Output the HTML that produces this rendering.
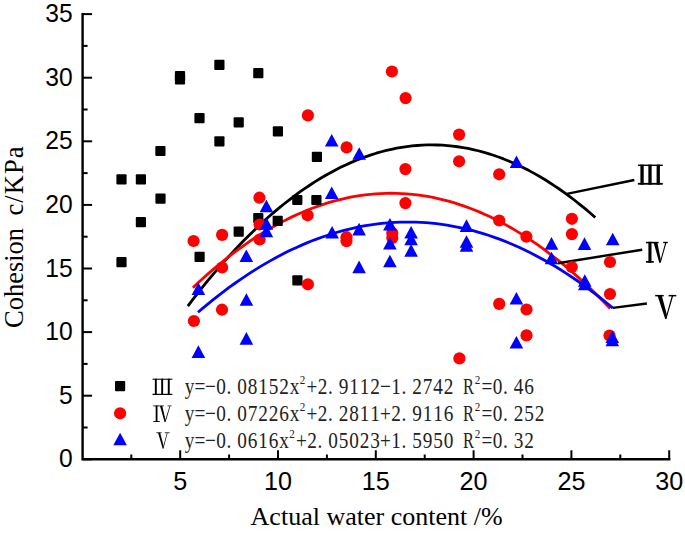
<!DOCTYPE html><html><head><meta charset="utf-8"><style>html,body{margin:0;padding:0;background:#fff;}svg{display:block;}</style></head><body>
<svg width="685" height="533" viewBox="0 0 685 533">
<rect width="685" height="533" fill="#fff"/>
<g stroke="#000" stroke-width="2.4" fill="none" stroke-linecap="square">
<path d="M82.60 14.10V459.30H669.20"/>
</g>
<g stroke="#000" stroke-width="2" fill="none">
<path d="M82.60 459.30H92.10"/>
<path d="M82.60 395.70H92.10"/>
<path d="M82.60 332.10H92.10"/>
<path d="M82.60 268.50H92.10"/>
<path d="M82.60 204.90H92.10"/>
<path d="M82.60 141.30H92.10"/>
<path d="M82.60 77.70H92.10"/>
<path d="M82.60 14.10H92.10"/>
<path d="M82.60 427.50H87.60"/>
<path d="M82.60 363.90H87.60"/>
<path d="M82.60 300.30H87.60"/>
<path d="M82.60 236.70H87.60"/>
<path d="M82.60 173.10H87.60"/>
<path d="M82.60 109.50H87.60"/>
<path d="M82.60 45.90H87.60"/>
<path d="M180.20 459.30V450.30"/>
<path d="M278.00 459.30V450.30"/>
<path d="M375.80 459.30V450.30"/>
<path d="M473.60 459.30V450.30"/>
<path d="M571.40 459.30V450.30"/>
<path d="M669.20 459.30V450.30"/>
<path d="M131.30 459.30V454.50"/>
<path d="M229.10 459.30V454.50"/>
<path d="M326.90 459.30V454.50"/>
<path d="M424.70 459.30V454.50"/>
<path d="M522.50 459.30V454.50"/>
<path d="M620.30 459.30V454.50"/>
</g>
<g font-family="Liberation Sans, sans-serif" font-size="26.5" fill="#000">
<text transform="translate(72.6 467.30) scale(0.93 1)" text-anchor="end">0</text>
<text transform="translate(72.6 403.70) scale(0.93 1)" text-anchor="end">5</text>
<text transform="translate(72.6 340.10) scale(0.93 1)" text-anchor="end">10</text>
<text transform="translate(72.6 276.50) scale(0.93 1)" text-anchor="end">15</text>
<text transform="translate(72.6 212.90) scale(0.93 1)" text-anchor="end">20</text>
<text transform="translate(72.6 149.30) scale(0.93 1)" text-anchor="end">25</text>
<text transform="translate(72.6 85.70) scale(0.93 1)" text-anchor="end">30</text>
<text transform="translate(72.6 22.10) scale(0.93 1)" text-anchor="end">35</text>
<text transform="translate(180.20 489.8) scale(0.95 1)" text-anchor="middle">5</text>
<text transform="translate(278.00 489.8) scale(0.95 1)" text-anchor="middle">10</text>
<text transform="translate(375.80 489.8) scale(0.95 1)" text-anchor="middle">15</text>
<text transform="translate(473.60 489.8) scale(0.95 1)" text-anchor="middle">20</text>
<text transform="translate(571.40 489.8) scale(0.95 1)" text-anchor="middle">25</text>
<text transform="translate(669.20 489.8) scale(0.95 1)" text-anchor="middle">30</text>
</g>
<text font-family="Liberation Serif, serif" font-size="26.5" fill="#000" transform="translate(22.6 328.0) rotate(-90)">Cohesion</text>
<text font-family="Liberation Serif, serif" font-size="26.5" fill="#000" letter-spacing="1.1" transform="translate(22.6 215.6) rotate(-90)">c/KPa</text>
<text font-family="Liberation Serif, serif" font-size="26" fill="#000" x="250.6" y="525.1">Actual water content /%</text>
<g fill="none" stroke-width="2.8" stroke-linejoin="round">
<polyline stroke="#000" points="187.83,306.04 192.92,299.38 198.01,292.86 203.11,286.48 208.20,280.24 213.29,274.14 218.39,268.18 223.48,262.36 228.57,256.69 233.66,251.15 238.76,245.76 243.85,240.50 248.94,235.39 254.04,230.41 259.13,225.58 264.22,220.89 269.32,216.33 274.41,211.92 279.50,207.65 284.59,203.52 289.69,199.53 294.78,195.68 299.87,191.98 304.97,188.41 310.06,184.98 315.15,181.69 320.24,178.55 325.34,175.54 330.43,172.68 335.52,169.95 340.62,167.37 345.71,164.93 350.80,162.62 355.90,160.46 360.99,158.44 366.08,156.56 371.17,154.82 376.27,153.22 381.36,151.76 386.45,150.44 391.55,149.27 396.64,148.23 401.73,147.33 406.82,146.58 411.92,145.96 417.01,145.49 422.10,145.15 427.20,144.96 432.29,144.91 437.38,144.99 442.48,145.22 447.57,145.59 452.66,146.10 457.75,146.75 462.85,147.54 467.94,148.47 473.03,149.54 478.13,150.76 483.22,152.11 488.31,153.60 493.40,155.24 498.50,157.01 503.59,158.93 508.68,160.98 513.78,163.18 518.87,165.52 523.96,168.00 529.06,170.61 534.15,173.37 539.24,176.27 544.33,179.31 549.43,182.49 554.52,185.82 559.61,189.28 564.71,192.88 569.80,196.62 574.89,200.51 579.98,204.53 585.08,208.70 590.17,213.00 595.26,217.45"/>
<polyline stroke="#f00" points="192.91,287.67 198.13,282.77 203.34,278.00 208.56,273.35 213.77,268.85 218.99,264.47 224.21,260.22 229.42,256.10 234.64,252.11 239.85,248.26 245.07,244.53 250.28,240.94 255.50,237.47 260.71,234.14 265.93,230.94 271.14,227.86 276.36,224.92 281.57,222.11 286.79,219.43 292.00,216.88 297.22,214.46 302.43,212.18 307.65,210.02 312.86,207.99 318.08,206.10 323.29,204.33 328.51,202.70 333.72,201.19 338.94,199.82 344.15,198.58 349.37,197.46 354.58,196.48 359.80,195.63 365.02,194.91 370.23,194.32 375.45,193.87 380.66,193.54 385.88,193.34 391.09,193.27 396.31,193.34 401.52,193.53 406.74,193.86 411.95,194.31 417.17,194.90 422.38,195.62 427.60,196.47 432.81,197.45 438.03,198.56 443.24,199.80 448.46,201.17 453.67,202.67 458.89,204.30 464.10,206.07 469.32,207.96 474.53,209.98 479.75,212.14 484.96,214.42 490.18,216.84 495.39,219.39 500.61,222.07 505.83,224.87 511.04,227.81 516.26,230.88 521.47,234.08 526.69,237.42 531.90,240.88 537.12,244.47 542.33,248.19 547.55,252.05 552.76,256.03 557.98,260.15 563.19,264.39 568.41,268.77 573.62,273.28 578.84,277.92 584.05,282.69 589.27,287.58 594.48,292.62 599.70,297.78 604.91,303.07 610.13,308.49"/>
<polyline stroke="#00f" points="198.00,312.25 203.19,307.85 208.37,303.56 213.56,299.37 218.74,295.30 223.93,291.34 229.11,287.48 234.30,283.74 239.49,280.11 244.67,276.59 249.86,273.17 255.04,269.87 260.23,266.68 265.42,263.60 270.60,260.63 275.79,257.76 280.97,255.01 286.16,252.37 291.34,249.84 296.53,247.42 301.72,245.11 306.90,242.91 312.09,240.82 317.27,238.84 322.46,236.97 327.65,235.21 332.83,233.56 338.02,232.02 343.20,230.59 348.39,229.27 353.57,228.06 358.76,226.96 363.95,225.97 369.13,225.09 374.32,224.33 379.50,223.67 384.69,223.12 389.88,222.68 395.06,222.35 400.25,222.14 405.43,222.03 410.62,222.03 415.81,222.14 420.99,222.37 426.18,222.70 431.36,223.14 436.55,223.70 441.73,224.36 446.92,225.13 452.11,226.02 457.29,227.01 462.48,228.11 467.66,229.33 472.85,230.65 478.04,232.09 483.22,233.63 488.41,235.29 493.59,237.05 498.78,238.93 503.96,240.91 509.15,243.01 514.34,245.21 519.52,247.53 524.71,249.96 529.89,252.49 535.08,255.14 540.27,257.89 545.45,260.76 550.64,263.74 555.82,266.82 561.01,270.02 566.19,273.33 571.38,276.75 576.57,280.27 581.75,283.91 586.94,287.66 592.12,291.52 597.31,295.48 602.50,299.56 607.68,303.75 612.87,308.05"/>
</g>
<g stroke="#000" stroke-width="2.4" fill="none">
<path d="M566.8 193.9L634.3 180.0"/>
<path d="M558.0 263.2L642.2 249.7"/>
<path d="M613.0 307.9L646.9 303.5"/>
</g>
<g fill="#000"><rect x="116.40" y="174.30" width="10.2" height="10.2" rx="1"/><rect x="135.80" y="174.30" width="10.2" height="10.2" rx="1"/><rect x="155.40" y="193.60" width="10.2" height="10.2" rx="1"/><rect x="135.80" y="217.00" width="10.2" height="10.2" rx="1"/><rect x="116.40" y="257.10" width="10.2" height="10.2" rx="1"/><rect x="194.50" y="251.70" width="10.2" height="10.2" rx="1"/><rect x="155.30" y="145.90" width="10.2" height="10.2" rx="1"/><rect x="174.90" y="70.90" width="10.2" height="10.2" rx="1"/><rect x="174.90" y="74.20" width="10.2" height="10.2" rx="1"/><rect x="214.30" y="59.70" width="10.2" height="10.2" rx="1"/><rect x="253.20" y="68.00" width="10.2" height="10.2" rx="1"/><rect x="194.40" y="113.10" width="10.2" height="10.2" rx="1"/><rect x="233.60" y="117.30" width="10.2" height="10.2" rx="1"/><rect x="214.30" y="136.20" width="10.2" height="10.2" rx="1"/><rect x="272.80" y="126.30" width="10.2" height="10.2" rx="1"/><rect x="311.80" y="151.70" width="10.2" height="10.2" rx="1"/><rect x="292.20" y="194.90" width="10.2" height="10.2" rx="1"/><rect x="311.30" y="194.90" width="10.2" height="10.2" rx="1"/><rect x="253.20" y="212.90" width="10.2" height="10.2" rx="1"/><rect x="272.60" y="215.70" width="10.2" height="10.2" rx="1"/><rect x="233.60" y="226.60" width="10.2" height="10.2" rx="1"/><rect x="292.30" y="275.30" width="10.2" height="10.2" rx="1"/></g>
<g fill="#f00"><circle cx="193.60" cy="241.00" r="6.1"/><circle cx="193.90" cy="321.00" r="6.1"/><circle cx="222.10" cy="234.90" r="6.1"/><circle cx="222.10" cy="267.50" r="6.1"/><circle cx="222.00" cy="309.70" r="6.1"/><circle cx="259.40" cy="197.70" r="6.1"/><circle cx="259.60" cy="224.50" r="6.1"/><circle cx="259.60" cy="239.50" r="6.1"/><circle cx="307.90" cy="115.40" r="6.1"/><circle cx="307.60" cy="215.30" r="6.1"/><circle cx="307.90" cy="284.30" r="6.1"/><circle cx="346.60" cy="147.40" r="6.1"/><circle cx="346.50" cy="237.20" r="6.1"/><circle cx="346.50" cy="241.10" r="6.1"/><circle cx="391.90" cy="71.50" r="6.1"/><circle cx="405.60" cy="98.10" r="6.1"/><circle cx="405.40" cy="169.10" r="6.1"/><circle cx="405.40" cy="203.10" r="6.1"/><circle cx="392.30" cy="233.00" r="6.1"/><circle cx="392.30" cy="237.90" r="6.1"/><circle cx="459.10" cy="134.60" r="6.1"/><circle cx="459.10" cy="161.30" r="6.1"/><circle cx="459.40" cy="358.40" r="6.1"/><circle cx="499.20" cy="174.30" r="6.1"/><circle cx="499.20" cy="220.50" r="6.1"/><circle cx="499.20" cy="303.90" r="6.1"/><circle cx="526.40" cy="236.70" r="6.1"/><circle cx="526.50" cy="309.50" r="6.1"/><circle cx="526.50" cy="335.40" r="6.1"/><circle cx="571.90" cy="218.80" r="6.1"/><circle cx="571.90" cy="234.10" r="6.1"/><circle cx="571.80" cy="267.00" r="6.1"/><circle cx="610.00" cy="262.00" r="6.1"/><circle cx="610.00" cy="294.00" r="6.1"/><circle cx="609.50" cy="335.50" r="6.1"/></g>
<g fill="#00f"><path d="M198.40 282.40L205.20 295.00L191.60 295.00Z"/><path d="M198.40 345.30L205.20 357.90L191.60 357.90Z"/><path d="M246.30 249.40L253.10 262.00L239.50 262.00Z"/><path d="M246.40 293.20L253.20 305.80L239.60 305.80Z"/><path d="M246.40 332.10L253.20 344.70L239.60 344.70Z"/><path d="M266.40 199.70L273.20 212.30L259.60 212.30Z"/><path d="M266.40 217.20L273.20 229.80L259.60 229.80Z"/><path d="M266.40 224.70L273.20 237.30L259.60 237.30Z"/><path d="M331.70 133.90L338.50 146.50L324.90 146.50Z"/><path d="M331.70 186.50L338.50 199.10L324.90 199.10Z"/><path d="M332.10 225.90L338.90 238.50L325.30 238.50Z"/><path d="M359.20 147.20L366.00 159.80L352.40 159.80Z"/><path d="M359.10 222.80L365.90 235.40L352.30 235.40Z"/><path d="M359.10 260.60L365.90 273.20L352.30 273.20Z"/><path d="M389.90 218.00L396.70 230.60L383.10 230.60Z"/><path d="M389.90 236.90L396.70 249.50L383.10 249.50Z"/><path d="M389.90 254.70L396.70 267.30L383.10 267.30Z"/><path d="M411.10 226.00L417.90 238.60L404.30 238.60Z"/><path d="M411.10 232.70L417.90 245.30L404.30 245.30Z"/><path d="M411.10 244.10L417.90 256.70L404.30 256.70Z"/><path d="M466.50 219.30L473.30 231.90L459.70 231.90Z"/><path d="M466.50 235.20L473.30 247.80L459.70 247.80Z"/><path d="M466.50 239.20L473.30 251.80L459.70 251.80Z"/><path d="M516.50 155.50L523.30 168.10L509.70 168.10Z"/><path d="M516.40 292.00L523.20 304.60L509.60 304.60Z"/><path d="M516.40 335.90L523.20 348.50L509.60 348.50Z"/><path d="M551.50 237.10L558.30 249.70L544.70 249.70Z"/><path d="M551.50 251.70L558.30 264.30L544.70 264.30Z"/><path d="M584.50 237.30L591.30 249.90L577.70 249.90Z"/><path d="M584.80 274.20L591.60 286.80L578.00 286.80Z"/><path d="M584.80 277.70L591.60 290.30L578.00 290.30Z"/><path d="M612.70 232.70L619.50 245.30L605.90 245.30Z"/><path d="M612.30 330.50L619.10 343.10L605.50 343.10Z"/><path d="M612.30 333.70L619.10 346.30L605.50 346.30Z"/></g>
<g fill="#000">
<rect x="637.90" y="164.60" width="24.90" height="1.40"/><rect x="637.90" y="182.90" width="24.90" height="1.80"/><rect x="640.40" y="164.60" width="3.30" height="20.10"/><rect x="648.35" y="164.60" width="3.30" height="20.10"/><rect x="656.60" y="164.60" width="3.30" height="20.10"/>
<path d="M648.40 241.80L651.50 241.80L651.50 262.70L648.40 262.70Z"/><path d="M645.90 241.80L658.60 241.80L658.60 243.30L645.90 243.30Z"/><path d="M645.90 261.00L653.80 261.00L653.80 262.70L645.90 262.70Z"/><path d="M653.50 242.30L657.30 242.30L660.90 260.30L660.70 262.70L659.30 262.70Z"/><path d="M665.30 242.60L666.50 242.60L660.70 262.70L660.10 261.30Z"/><path d="M663.20 241.80L667.80 241.80L667.80 243.20L663.20 243.20Z"/>
<path d="M655.20 294.90L663.70 294.90L663.70 296.40L655.20 296.40Z"/><path d="M668.60 294.90L676.30 294.90L676.30 296.40L668.60 296.40Z"/><path d="M657.50 295.40L661.80 295.40L666.80 314.40L666.40 319.10L665.20 319.10Z"/><path d="M671.80 295.70L673.20 295.70L666.40 319.10L665.80 317.30Z"/>
</g>
<g fill="#000"><rect x="115.00" y="381.10" width="10.2" height="10.2" rx="1"/></g>
<g fill="#f00"><circle cx="120.10" cy="413.30" r="6.1"/></g>
<g fill="#00f"><path d="M120.10 432.70L126.90 445.30L113.30 445.30Z"/></g>
<g fill="#000">
<rect x="152.50" y="378.70" width="19.90" height="1.05"/><rect x="152.50" y="393.78" width="19.90" height="1.22"/><rect x="154.86" y="378.70" width="1.92" height="16.30"/><rect x="161.21" y="378.70" width="1.92" height="16.30"/><rect x="167.80" y="378.70" width="1.92" height="16.30"/>
<path d="M155.68 405.50L157.49 405.50L157.49 421.90L155.68 421.90Z"/><path d="M153.20 405.50L163.81 405.50L163.81 406.32L153.20 406.32Z"/><path d="M153.20 420.97L159.80 420.97L159.80 421.90L153.20 421.90Z"/><path d="M160.03 405.89L162.25 405.89L165.58 420.02L165.57 421.90L164.55 421.90Z"/><path d="M169.56 406.13L170.26 406.13L165.57 421.90L165.07 420.80Z"/><path d="M167.66 405.50L171.50 405.50L171.50 406.27L167.66 406.27Z"/>
<path d="M156.30 432.40L161.66 432.40L161.66 433.16L156.30 433.16Z"/><path d="M164.75 432.40L169.60 432.40L169.60 433.16L164.75 433.16Z"/><path d="M158.09 432.74L160.12 432.74L163.50 445.61L163.36 448.80L162.70 448.80Z"/><path d="M166.87 432.94L167.54 432.94L163.36 448.80L162.98 447.58Z"/>
</g>
<g font-family="Liberation Serif, serif" font-size="23.5" fill="#222">
<text transform="translate(189.45 393.8) scale(0.82 1)" text-anchor="middle">y</text><text transform="translate(199.95 393.8) scale(0.82 1)" text-anchor="middle">=</text><text transform="translate(210.45 393.8) scale(0.82 1)" text-anchor="middle">−</text><text transform="translate(220.95 393.8) scale(0.82 1)" text-anchor="middle">0</text><text transform="translate(229.00 393.8) scale(0.82 1)" text-anchor="middle">.</text><text transform="translate(241.95 393.8) scale(0.82 1)" text-anchor="middle">0</text><text transform="translate(252.45 393.8) scale(0.82 1)" text-anchor="middle">8</text><text transform="translate(262.95 393.8) scale(0.82 1)" text-anchor="middle">1</text><text transform="translate(273.45 393.8) scale(0.82 1)" text-anchor="middle">5</text><text transform="translate(283.95 393.8) scale(0.82 1)" text-anchor="middle">2</text><text transform="translate(294.45 393.8) scale(0.82 1)" text-anchor="middle">x</text><text transform="translate(311.95 393.8) scale(0.82 1)" text-anchor="middle">+</text><text transform="translate(322.45 393.8) scale(0.82 1)" text-anchor="middle">2</text><text transform="translate(330.50 393.8) scale(0.82 1)" text-anchor="middle">.</text><text transform="translate(343.45 393.8) scale(0.82 1)" text-anchor="middle">9</text><text transform="translate(353.95 393.8) scale(0.82 1)" text-anchor="middle">1</text><text transform="translate(364.45 393.8) scale(0.82 1)" text-anchor="middle">1</text><text transform="translate(374.95 393.8) scale(0.82 1)" text-anchor="middle">2</text><text transform="translate(385.45 393.8) scale(0.82 1)" text-anchor="middle">−</text><text transform="translate(395.95 393.8) scale(0.82 1)" text-anchor="middle">1</text><text transform="translate(404.00 393.8) scale(0.82 1)" text-anchor="middle">.</text><text transform="translate(416.95 393.8) scale(0.82 1)" text-anchor="middle">2</text><text transform="translate(427.45 393.8) scale(0.82 1)" text-anchor="middle">7</text><text transform="translate(437.95 393.8) scale(0.82 1)" text-anchor="middle">4</text><text transform="translate(448.45 393.8) scale(0.82 1)" text-anchor="middle">2</text><text transform="translate(468.45 393.8) scale(0.7 1)" text-anchor="middle">R</text><text transform="translate(486.95 393.8) scale(0.82 1)" text-anchor="middle">=</text><text transform="translate(497.45 393.8) scale(0.82 1)" text-anchor="middle">0</text><text transform="translate(505.50 393.8) scale(0.82 1)" text-anchor="middle">.</text><text transform="translate(518.45 393.8) scale(0.82 1)" text-anchor="middle">4</text><text transform="translate(528.95 393.8) scale(0.82 1)" text-anchor="middle">6</text><text transform="translate(302.40 384.1) scale(0.82 1)" text-anchor="middle" font-size="13.5">2</text><text transform="translate(477.40 384.1) scale(0.82 1)" text-anchor="middle" font-size="13.5">2</text>
<text transform="translate(189.45 420.9) scale(0.82 1)" text-anchor="middle">y</text><text transform="translate(199.95 420.9) scale(0.82 1)" text-anchor="middle">=</text><text transform="translate(210.45 420.9) scale(0.82 1)" text-anchor="middle">−</text><text transform="translate(220.95 420.9) scale(0.82 1)" text-anchor="middle">0</text><text transform="translate(229.00 420.9) scale(0.82 1)" text-anchor="middle">.</text><text transform="translate(241.95 420.9) scale(0.82 1)" text-anchor="middle">0</text><text transform="translate(252.45 420.9) scale(0.82 1)" text-anchor="middle">7</text><text transform="translate(262.95 420.9) scale(0.82 1)" text-anchor="middle">2</text><text transform="translate(273.45 420.9) scale(0.82 1)" text-anchor="middle">2</text><text transform="translate(283.95 420.9) scale(0.82 1)" text-anchor="middle">6</text><text transform="translate(294.45 420.9) scale(0.82 1)" text-anchor="middle">x</text><text transform="translate(311.95 420.9) scale(0.82 1)" text-anchor="middle">+</text><text transform="translate(322.45 420.9) scale(0.82 1)" text-anchor="middle">2</text><text transform="translate(330.50 420.9) scale(0.82 1)" text-anchor="middle">.</text><text transform="translate(343.45 420.9) scale(0.82 1)" text-anchor="middle">2</text><text transform="translate(353.95 420.9) scale(0.82 1)" text-anchor="middle">8</text><text transform="translate(364.45 420.9) scale(0.82 1)" text-anchor="middle">1</text><text transform="translate(374.95 420.9) scale(0.82 1)" text-anchor="middle">1</text><text transform="translate(385.45 420.9) scale(0.82 1)" text-anchor="middle">+</text><text transform="translate(395.95 420.9) scale(0.82 1)" text-anchor="middle">2</text><text transform="translate(404.00 420.9) scale(0.82 1)" text-anchor="middle">.</text><text transform="translate(416.95 420.9) scale(0.82 1)" text-anchor="middle">9</text><text transform="translate(427.45 420.9) scale(0.82 1)" text-anchor="middle">1</text><text transform="translate(437.95 420.9) scale(0.82 1)" text-anchor="middle">1</text><text transform="translate(448.45 420.9) scale(0.82 1)" text-anchor="middle">6</text><text transform="translate(468.45 420.9) scale(0.7 1)" text-anchor="middle">R</text><text transform="translate(486.95 420.9) scale(0.82 1)" text-anchor="middle">=</text><text transform="translate(497.45 420.9) scale(0.82 1)" text-anchor="middle">0</text><text transform="translate(505.50 420.9) scale(0.82 1)" text-anchor="middle">.</text><text transform="translate(518.45 420.9) scale(0.82 1)" text-anchor="middle">2</text><text transform="translate(528.95 420.9) scale(0.82 1)" text-anchor="middle">5</text><text transform="translate(539.45 420.9) scale(0.82 1)" text-anchor="middle">2</text><text transform="translate(302.40 411.2) scale(0.82 1)" text-anchor="middle" font-size="13.5">2</text><text transform="translate(477.40 411.2) scale(0.82 1)" text-anchor="middle" font-size="13.5">2</text>
<text transform="translate(189.45 447.9) scale(0.82 1)" text-anchor="middle">y</text><text transform="translate(199.95 447.9) scale(0.82 1)" text-anchor="middle">=</text><text transform="translate(210.45 447.9) scale(0.82 1)" text-anchor="middle">−</text><text transform="translate(220.95 447.9) scale(0.82 1)" text-anchor="middle">0</text><text transform="translate(229.00 447.9) scale(0.82 1)" text-anchor="middle">.</text><text transform="translate(241.95 447.9) scale(0.82 1)" text-anchor="middle">0</text><text transform="translate(252.45 447.9) scale(0.82 1)" text-anchor="middle">6</text><text transform="translate(262.95 447.9) scale(0.82 1)" text-anchor="middle">1</text><text transform="translate(273.45 447.9) scale(0.82 1)" text-anchor="middle">6</text><text transform="translate(283.95 447.9) scale(0.82 1)" text-anchor="middle">x</text><text transform="translate(301.45 447.9) scale(0.82 1)" text-anchor="middle">+</text><text transform="translate(311.95 447.9) scale(0.82 1)" text-anchor="middle">2</text><text transform="translate(320.00 447.9) scale(0.82 1)" text-anchor="middle">.</text><text transform="translate(332.95 447.9) scale(0.82 1)" text-anchor="middle">0</text><text transform="translate(343.45 447.9) scale(0.82 1)" text-anchor="middle">5</text><text transform="translate(353.95 447.9) scale(0.82 1)" text-anchor="middle">0</text><text transform="translate(364.45 447.9) scale(0.82 1)" text-anchor="middle">2</text><text transform="translate(374.95 447.9) scale(0.82 1)" text-anchor="middle">3</text><text transform="translate(385.45 447.9) scale(0.82 1)" text-anchor="middle">+</text><text transform="translate(395.95 447.9) scale(0.82 1)" text-anchor="middle">1</text><text transform="translate(404.00 447.9) scale(0.82 1)" text-anchor="middle">.</text><text transform="translate(416.95 447.9) scale(0.82 1)" text-anchor="middle">5</text><text transform="translate(427.45 447.9) scale(0.82 1)" text-anchor="middle">9</text><text transform="translate(437.95 447.9) scale(0.82 1)" text-anchor="middle">5</text><text transform="translate(448.45 447.9) scale(0.82 1)" text-anchor="middle">0</text><text transform="translate(468.45 447.9) scale(0.7 1)" text-anchor="middle">R</text><text transform="translate(486.95 447.9) scale(0.82 1)" text-anchor="middle">=</text><text transform="translate(497.45 447.9) scale(0.82 1)" text-anchor="middle">0</text><text transform="translate(505.50 447.9) scale(0.82 1)" text-anchor="middle">.</text><text transform="translate(518.45 447.9) scale(0.82 1)" text-anchor="middle">3</text><text transform="translate(528.95 447.9) scale(0.82 1)" text-anchor="middle">2</text><text transform="translate(291.90 438.2) scale(0.82 1)" text-anchor="middle" font-size="13.5">2</text><text transform="translate(477.40 438.2) scale(0.82 1)" text-anchor="middle" font-size="13.5">2</text>
</g>
</svg></body></html>
